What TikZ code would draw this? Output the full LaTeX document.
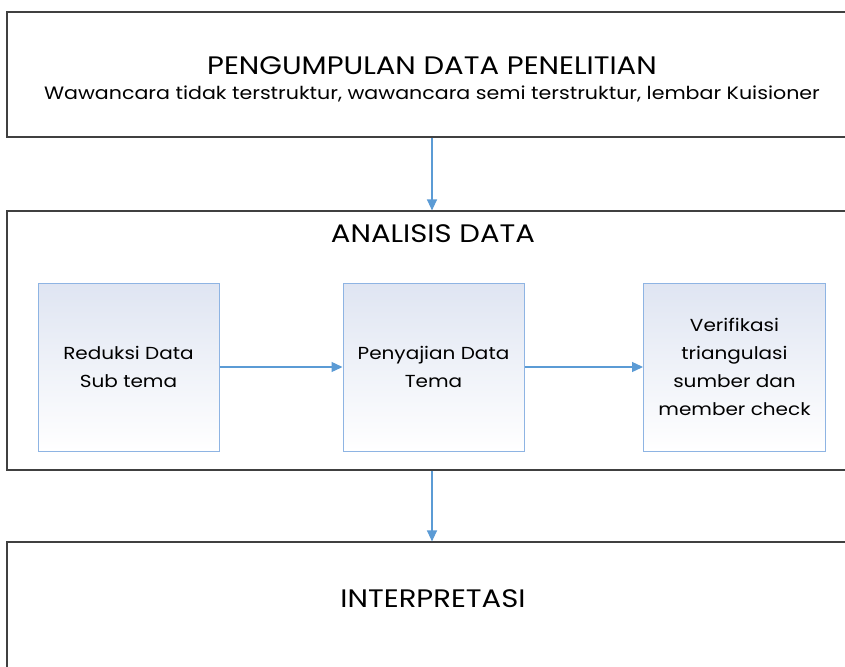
\documentclass[tikz,border=0pt]{standalone}
\usepackage{fontspec}
\setmainfont{Poppins}[FakeStretch=1.15]
\usetikzlibrary{arrows.meta}
\definecolor{frame}{HTML}{404040}
\definecolor{flow}{HTML}{5B9BD5}
\definecolor{stepedge}{HTML}{8EB4E3}
\definecolor{stepfill}{HTML}{DFE5F2}

\begin{document}
\begin{tikzpicture}[x=1pt,y=-1pt,
  stage/.style={draw=frame, line width=1.2pt, minimum width=850pt, inner sep=0pt},
  stepbox/.style={draw=stepedge, line width=1pt, top color=stepfill,
    middle color=stepfill!30!white, bottom color=white,
    minimum width=181pt, minimum height=168pt, inner sep=0pt, align=center,
    font=\fontsize{17.4}{28}\selectfont},
  heading/.style={font=\fontsize{25.3}{28}\selectfont, inner sep=0pt, anchor=base},
  subheading/.style={font=\fontsize{17.9}{22}\selectfont, inner sep=0pt, anchor=base},
  flowarrow/.style={draw=flow, line width=1.3pt, -{Triangle[length=11pt,width=10pt]}}]
\useasboundingbox (0,0) rectangle (845,666);
\clip (0,0) rectangle (845,666);
\fill[white] (0,0) rectangle (845,666);

% three stages
\node[stage, minimum height=125pt] (collect) at (432,74.5) {};
\node[stage, minimum height=259pt] (analysis) at (432,340.5) {};
\node[stage, minimum height=150pt] (interpret) at (432,617) {};

\node[heading] (collecttitle) at (432,75) {PENGUMPULAN DATA PENELITIAN};
\node[subheading] (collectsub) at (432,100) {Wawancara tidak terstruktur, wawancara semi terstruktur, lembar Kuisioner};
\node[heading] (analysistitle) at (433,242) {ANALISIS DATA};
\node[heading] (interprettitle) at (433,607) {INTERPRETASI};

% analysis steps
\node[stepbox] (reduce) at (128.5,367) {Reduksi Data\\Sub tema};
\node[stepbox] (present) at (433.5,367) {Penyajian Data\\Tema};
\node[stepbox, minimum width=182pt] (verify) at (734.5,367) {Verifikasi\\triangulasi\\sumber dan\\member check};

% flow
\draw[flowarrow] (collect.south) -- (analysis.north);
\draw[flowarrow] (analysis.south) -- (interpret.north);
\draw[flowarrow] (reduce.east) -- (present.west);
\draw[flowarrow] (present.east) -- (verify.west);
\end{tikzpicture}
\end{document}
